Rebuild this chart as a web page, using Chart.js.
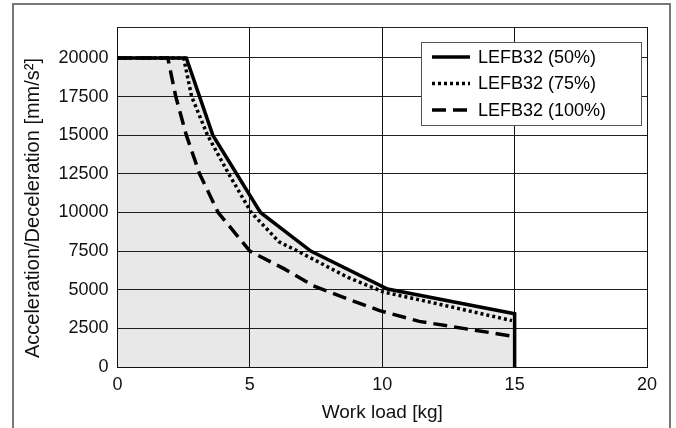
<!DOCTYPE html>
<html>
<head>
<meta charset="utf-8">
<script src="https://cdn.jsdelivr.net/npm/chart.js@4"></script>
<style>
  html, body { margin: 0; padding: 0; background: #fff; overflow: hidden; }
  #wrap { position: relative; width: 676px; height: 428px; }
  #frame { position: absolute; left: 12px; top: 3px; width: 655px; height: 500px;
           border: 2px solid #777; border-bottom: none; pointer-events: none; }
</style>
</head>
<body>
<div id="wrap">
  <canvas id="myChart" width="676" height="428"></canvas>
  <div id="frame"></div>
</div>
<script>
// Series labels
const seriesLabels = ['LEFB32 (50%)', 'LEFB32 (75%)', 'LEFB32 (100%)'];

// Work load [kg] / acceleration [mm/s²]
const load50 = [0, 2.6, 3.6, 5.4, 7.3, 10.2, 15, 15];
const acc50 = [20000, 20000, 15000, 10000, 7500, 5050, 3450, 0];

const load75 = [0, 2.5, 2.8, 3.4, 4.2, 5.05, 6.1, 6.8, 8.7, 10.05, 11.8, 14.9];
const acc75 = [20000, 20000, 17500, 15000, 12500, 10000, 8100, 7500, 5800, 4850, 4200, 3000];

const load100 = [0, 1.9, 2.2, 2.6, 3.1, 3.8, 5.0, 6.3, 7.4, 8.7, 9.9, 11.4, 14.9];
const acc100 = [20000, 20000, 17500, 15000, 12500, 10000, 7500, 6350, 5250, 4400, 3650, 2950, 2000];

// Axis ticks (22000 is the unlabeled top edge of the plot)
const xTicks = [0, 5, 10, 15, 20];
const yTicks = [0, 2500, 5000, 7500, 10000, 12500, 15000, 17500, 20000, 22000];
const yMax = 22000;
const yTitle = 'Acceleration/Deceleration [mm/s²]';

const toPoints = (xs, ys) => xs.map((x, i) => ({ x: x, y: ys[i] }));

const FONT = "'Liberation Sans', Arial, sans-serif";

// Legend drawn as a framed box inside the plot, plus the y title
const boxLegend = {
    id: 'boxLegend',
    afterDraw(chart) {
        const c = chart.ctx;
        const x0 = 421, y0 = 42, w = 220, h = 83;
        c.save();
        c.fillStyle = '#fff';
        c.fillRect(x0, y0, w, h);
        c.strokeStyle = '#555';
        c.lineWidth = 1;
        c.strokeRect(x0 + 0.5, y0 + 0.5, w, h);
        chart.data.datasets.forEach((ds, i) => {
            const y = 57 + i * 26.5;
            c.beginPath();
            c.setLineDash(ds.borderDash || []);
            c.lineWidth = ds.borderWidth;
            c.strokeStyle = '#000';
            c.moveTo(432, y);
            c.lineTo(470, y);
            c.stroke();
            c.setLineDash([]);
            c.fillStyle = '#000';
            c.font = '18px ' + FONT;
            c.textBaseline = 'middle';
            c.fillText(ds.label, 478, y + 1);
        });
        // y axis title
        c.translate(33, 208);
        c.rotate(-Math.PI / 2);
        c.fillStyle = '#111';
        c.font = '20px ' + FONT;
        c.textAlign = 'center';
        c.textBaseline = 'middle';
        c.fillText(yTitle, 0, 0);
        c.restore();
    }
};

const ctx = document.getElementById('myChart').getContext('2d');

const myChart = new Chart(ctx, {
    type: 'line',
    data: {
        datasets: [{
            label: seriesLabels[0],
            data: toPoints(load50, acc50),
            borderColor: '#000',
            borderWidth: 3.5,
            backgroundColor: 'rgba(0,0,0,0.09)',
            fill: 'origin',
            pointRadius: 0
        }, {
            label: seriesLabels[1],
            data: toPoints(load75, acc75),
            borderColor: '#000',
            borderWidth: 3.5,
            borderDash: [3, 3],
            fill: false,
            pointRadius: 0
        }, {
            label: seriesLabels[2],
            data: toPoints(load100, acc100),
            borderColor: '#000',
            borderWidth: 3.5,
            borderDash: [14, 7],
            fill: false,
            pointRadius: 0
        }]
    },
    options: {
        responsive: false,
        animation: false,
        layout: { padding: { left: 0, right: 29, top: 27, bottom: 0 } },
        plugins: {
            legend: { display: false },
            tooltip: { enabled: false }
        },
        scales: {
            x: {
                type: 'linear',
                min: 0,
                max: 20,
                afterBuildTicks: (axis) => { axis.ticks = xTicks.map(v => ({ value: v })); },
                afterFit: (axis) => { axis.height = 61; },
                grid: { color: '#111', lineWidth: 1, drawTicks: false },
                border: { color: '#111', width: 1 },
                ticks: { color: '#111', font: { family: FONT, size: 18 }, padding: 7 },
                title: {
                    display: true,
                    text: 'Work load [kg]',
                    color: '#111',
                    font: { family: FONT, size: 19 },
                    padding: { top: 4 }
                }
            },
            y: {
                min: 0,
                max: yMax,
                afterBuildTicks: (axis) => { axis.ticks = yTicks.map(v => ({ value: v })); },
                afterFit: (axis) => { axis.width = 117.5; },
                grid: { color: '#222', lineWidth: 1, drawTicks: false },
                border: { color: '#111', width: 1 },
                ticks: {
                    autoSkip: false,
                    color: '#111',
                    font: { family: FONT, size: 18 },
                    padding: 9,
                    callback: (v) => (v === yMax ? '' : v)
                },
                title: { display: false }
            }
        }
    },
    plugins: [boxLegend]
});
</script>
</body>
</html>
